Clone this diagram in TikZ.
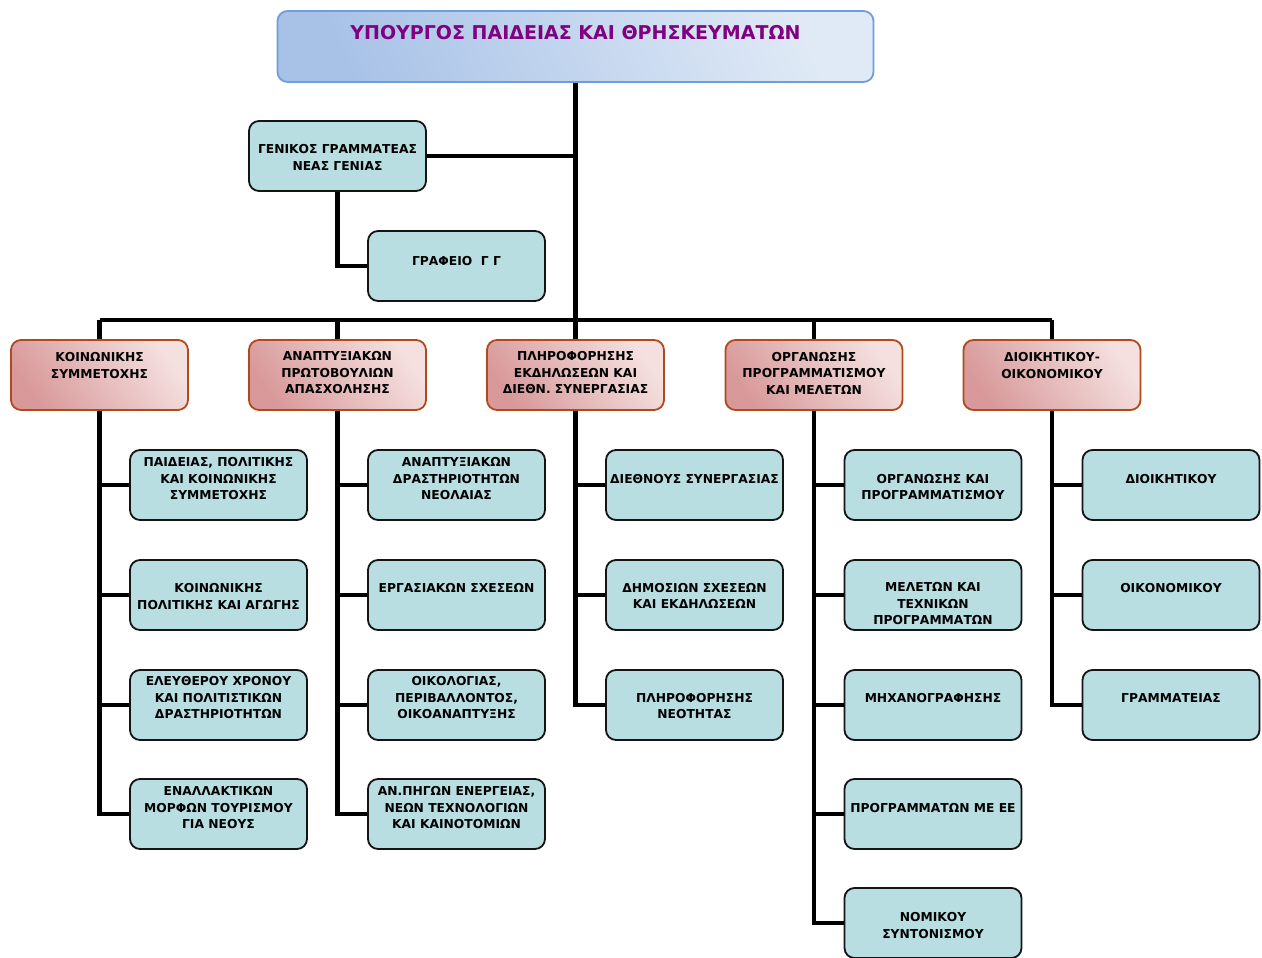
\documentclass[tikz,border=0pt]{standalone}
\usepackage{fontspec}
\setmainfont{DejaVu Sans}
\definecolor{subfill}{HTML}{B8DEE2}
\definecolor{deptA}{HTML}{D9999A}
\definecolor{deptB}{HTML}{F4E0DF}
\definecolor{deptline}{HTML}{B04A1C}
\definecolor{titA}{HTML}{A8C2E7}
\definecolor{titB}{HTML}{E0EAF6}
\definecolor{titline}{HTML}{6C9EE0}
\definecolor{titletext}{HTML}{800080}
\begin{document}
\begin{tikzpicture}[x=1pt,y=-1pt,
  sub/.style={draw=black!92, line width=1.8pt, rounded corners=10pt, fill=subfill,
    minimum width=177pt, minimum height=70pt, inner sep=0pt},
  dept/.style={draw=deptline, line width=1.8pt, rounded corners=10pt,
    left color=deptA, right color=deptB, shading angle=125,
    minimum width=177pt, minimum height=70pt, inner sep=0pt},
  titbox/.style={draw=titline, line width=1.8pt, rounded corners=10pt,
    left color=titA, right color=titB, shading angle=115,
    minimum width=596pt, minimum height=71pt, inner sep=0pt},
  txt/.style={font=\fontsize{12.3}{16.5}\selectfont\bfseries, align=center, inner sep=0pt, text=black, yshift=-1pt},
  conn/.style={draw=black, line width=4.8pt}]
\useasboundingbox (0,0) rectangle (1262,958);
% title
\node[titbox] (title) at (575.5,46.5) {};
\node[font=\fontsize{19}{22}\selectfont\bfseries, text=titletext, inner sep=0pt] (titlet) at (575.5,32.5) {ΥΠΟΥΡΓΟΣ ΠΑΙΔΕΙΑΣ ΚΑΙ ΘΡΗΣΚΕΥΜΑΤΩΝ};
% general secretary
\node[sub] (gg) at (337.5,156) {};
\node[txt] (ggt) at (337.5,156.5) {ΓΕΝΙΚΟΣ ΓΡΑΜΜΑΤΕΑΣ\\ΝΕΑΣ ΓΕΝΙΑΣ};
\node[sub] (gr) at (456.5,266) {};
\node[txt] (grt) at (456.5,260) {ΓΡΑΦΕΙΟ\ \ Γ Γ};
% departments
\node[dept] (d1) at (99.5,375) {};
\node[txt] (d1t) at (99.5,364.5) {ΚΟΙΝΩΝΙΚΗΣ\\ΣΥΜΜΕΤΟΧΗΣ};
\node[dept] (d2) at (337.5,375) {};
\node[txt] (d2t) at (337.5,372) {ΑΝΑΠΤΥΞΙΑΚΩΝ\\ΠΡΩΤΟΒΟΥΛΙΩΝ\\ΑΠΑΣΧΟΛΗΣΗΣ};
\node[dept] (d3) at (575.5,375) {};
\node[txt] (d3t) at (575.5,372) {ΠΛΗΡΟΦΟΡΗΣΗΣ\\ΕΚΔΗΛΩΣΕΩΝ ΚΑΙ\\ΔΙΕΘΝ. ΣΥΝΕΡΓΑΣΙΑΣ};
\node[dept] (d4) at (814,375) {};
\node[txt] (d4t) at (814,372) {ΟΡΓΑΝΩΣΗΣ\\ΠΡΟΓΡΑΜΜΑΤΙΣΜΟΥ\\ΚΑΙ ΜΕΛΕΤΩΝ};
\node[dept] (d5) at (1052,375) {};
\node[txt] (d5t) at (1052,364.5) {ΔΙΟΙΚΗΤΙΚΟΥ-\\ΟΙΚΟΝΟΜΙΚΟΥ};
% column 1
\node[sub] (s11) at (218.5,485) {};
\node[txt] (s11t) at (218.5,478) {ΠΑΙΔΕΙΑΣ, ΠΟΛΙΤΙΚΗΣ\\ΚΑΙ ΚΟΙΝΩΝΙΚΗΣ\\ΣΥΜΜΕΤΟΧΗΣ};
\node[sub] (s12) at (218.5,595) {};
\node[txt] (s12t) at (218.5,595.5) {ΚΟΙΝΩΝΙΚΗΣ\\ΠΟΛΙΤΙΚΗΣ ΚΑΙ ΑΓΩΓΗΣ};
\node[sub] (s13) at (218.5,705) {};
\node[txt] (s13t) at (218.5,697) {ΕΛΕΥΘΕΡΟΥ ΧΡΟΝΟΥ\\ΚΑΙ ΠΟΛΙΤΙΣΤΙΚΩΝ\\ΔΡΑΣΤΗΡΙΟΤΗΤΩΝ};
\node[sub] (s14) at (218.5,814) {};
\node[txt] (s14t) at (218.5,807) {ΕΝΑΛΛΑΚΤΙΚΩΝ\\ΜΟΡΦΩΝ ΤΟΥΡΙΣΜΟΥ\\ΓΙΑ ΝΕΟΥΣ};
% column 2
\node[sub] (s21) at (456.5,485) {};
\node[txt] (s21t) at (456.5,478) {ΑΝΑΠΤΥΞΙΑΚΩΝ\\ΔΡΑΣΤΗΡΙΟΤΗΤΩΝ\\ΝΕΟΛΑΙΑΣ};
\node[sub] (s22) at (456.5,595) {};
\node[txt] (s22t) at (456.5,587) {ΕΡΓΑΣΙΑΚΩΝ ΣΧΕΣΕΩΝ};
\node[sub] (s23) at (456.5,705) {};
\node[txt] (s23t) at (456.5,697) {ΟΙΚΟΛΟΓΙΑΣ,\\ΠΕΡΙΒΑΛΛΟΝΤΟΣ,\\ΟΙΚΟΑΝΑΠΤΥΞΗΣ};
\node[sub] (s24) at (456.5,814) {};
\node[txt] (s24t) at (456.5,807) {ΑΝ.ΠΗΓΩΝ ΕΝΕΡΓΕΙΑΣ,\\ΝΕΩΝ ΤΕΧΝΟΛΟΓΙΩΝ\\ΚΑΙ ΚΑΙΝΟΤΟΜΙΩΝ};
% column 3
\node[sub] (s31) at (694.5,485) {};
\node[txt] (s31t) at (694.5,478) {ΔΙΕΘΝΟΥΣ ΣΥΝΕΡΓΑΣΙΑΣ};
\node[sub] (s32) at (694.5,595) {};
\node[txt] (s32t) at (694.5,595) {ΔΗΜΟΣΙΩΝ ΣΧΕΣΕΩΝ\\ΚΑΙ ΕΚΔΗΛΩΣΕΩΝ};
\node[sub] (s33) at (694.5,705) {};
\node[txt] (s33t) at (694.5,705) {ΠΛΗΡΟΦΟΡΗΣΗΣ\\ΝΕΟΤΗΤΑΣ};
% column 4
\node[sub] (s41) at (933,485) {};
\node[txt] (s41t) at (933,486) {ΟΡΓΑΝΩΣΗΣ ΚΑΙ\\ΠΡΟΓΡΑΜΜΑΤΙΣΜΟΥ};
\node[sub] (s42) at (933,595) {};
\node[txt] (s42t) at (933,603) {ΜΕΛΕΤΩΝ ΚΑΙ\\ΤΕΧΝΙΚΩΝ\\ΠΡΟΓΡΑΜΜΑΤΩΝ};
\node[sub] (s43) at (933,705) {};
\node[txt] (s43t) at (933,697) {ΜΗΧΑΝΟΓΡΑΦΗΣΗΣ};
\node[sub] (s44) at (933,814) {};
\node[txt] (s44t) at (933,807) {ΠΡΟΓΡΑΜΜΑΤΩΝ ΜΕ ΕΕ};
\node[sub] (s45) at (933,923) {};
\node[txt] (s45t) at (933,924.5) {ΝΟΜΙΚΟΥ\\ΣΥΝΤΟΝΙΣΜΟΥ};
% column 5
\node[sub] (s51) at (1171,485) {};
\node[txt] (s51t) at (1171,478) {ΔΙΟΙΚΗΤΙΚΟΥ};
\node[sub] (s52) at (1171,595) {};
\node[txt] (s52t) at (1171,587) {ΟΙΚΟΝΟΜΙΚΟΥ};
\node[sub] (s53) at (1171,705) {};
\node[txt] (s53t) at (1171,697) {ΓΡΑΜΜΑΤΕΙΑΣ};
% connectors
\coordinate (busL) at (99.5,320);
\coordinate (busR) at (1052,320);
\draw[conn] (title.south) -- (d3.north);
\draw[conn] (gg.east) -- (gg.east -| title.south);
\draw[conn] (gg.south) |- (gr.west);
\draw[conn] (busL) -- (busR);
\draw[conn] (busL) -- (d1.north);
\draw[conn] (d2.north |- busL) -- (d2.north);
\draw[conn] (d4.north |- busL) -- (d4.north);
\draw[conn] (busR) -- (d5.north);
\draw[conn] (d1.south) |- (s14.west);
\draw[conn] (d1.south |- s11.west) -- (s11.west);
\draw[conn] (d1.south |- s12.west) -- (s12.west);
\draw[conn] (d1.south |- s13.west) -- (s13.west);
\draw[conn] (d2.south) |- (s24.west);
\draw[conn] (d2.south |- s21.west) -- (s21.west);
\draw[conn] (d2.south |- s22.west) -- (s22.west);
\draw[conn] (d2.south |- s23.west) -- (s23.west);
\draw[conn] (d3.south) |- (s33.west);
\draw[conn] (d3.south |- s31.west) -- (s31.west);
\draw[conn] (d3.south |- s32.west) -- (s32.west);
\draw[conn] (d4.south) |- (s45.west);
\draw[conn] (d4.south |- s41.west) -- (s41.west);
\draw[conn] (d4.south |- s42.west) -- (s42.west);
\draw[conn] (d4.south |- s43.west) -- (s43.west);
\draw[conn] (d4.south |- s44.west) -- (s44.west);
\draw[conn] (d5.south) |- (s53.west);
\draw[conn] (d5.south |- s51.west) -- (s51.west);
\draw[conn] (d5.south |- s52.west) -- (s52.west);
\end{tikzpicture}
\end{document}
